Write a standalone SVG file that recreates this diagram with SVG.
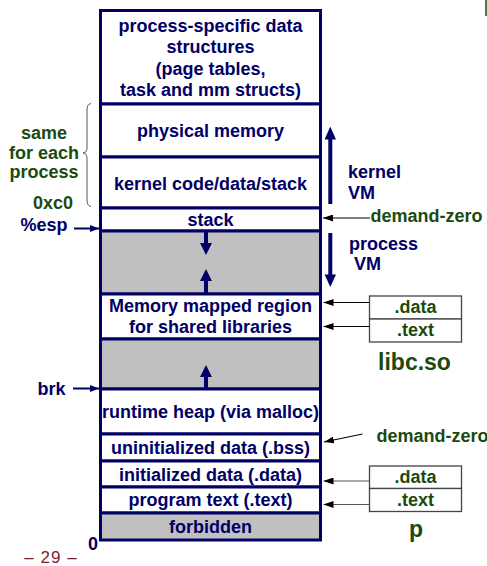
<svg xmlns="http://www.w3.org/2000/svg" width="487" height="566" viewBox="0 0 487 566">
<defs>
<style>
.box{fill:#ffffff;stroke:#000066;stroke-width:3}
.gray{fill:#c0c0c0;stroke:#000066;stroke-width:3}
.t{font-family:"Liberation Sans",Arial,sans-serif;font-weight:bold;font-size:18px;fill:#000066;text-anchor:middle}
.ts{font-family:"Liberation Sans",Arial,sans-serif;font-weight:bold;font-size:18px;fill:#000066}
.g{font-family:"Liberation Sans",Arial,sans-serif;font-weight:bold;font-size:18px;fill:#1a4a10;text-anchor:middle}
.gl{font-family:"Liberation Sans",Arial,sans-serif;font-weight:bold;font-size:18px;fill:#1a4a10}
.big{font-size:23px}
.sec{fill:#ffffff;stroke:#444444;stroke-width:1.3}
.thick{stroke:#000066;stroke-width:4;fill:none}
.head{fill:#000066}
.thin{stroke:#000000;stroke-width:1.2;fill:none;marker-end:url(#ahk)}
.thing{stroke:#555555;stroke-width:1.2;fill:none;marker-end:url(#ahg)}
.navy{stroke:#000066;stroke-width:2;fill:none;marker-end:url(#ahn)}
</style>
<marker id="ahk" viewBox="0 0 10 7" refX="10" refY="3.5" markerWidth="10" markerHeight="7" markerUnits="userSpaceOnUse" orient="auto"><path d="M0,0 L10,3.5 L0,7 z" fill="#000000"/></marker>
<marker id="ahg" viewBox="0 0 10 7" refX="10" refY="3.5" markerWidth="10" markerHeight="7" markerUnits="userSpaceOnUse" orient="auto"><path d="M0,0 L10,3.5 L0,7 z" fill="#000000"/></marker>
<marker id="ahn" viewBox="0 0 9 7" refX="9" refY="3.5" markerWidth="9" markerHeight="7" markerUnits="userSpaceOnUse" orient="auto"><path d="M0,0 L9,3.5 L0,7 z" fill="#000066"/></marker>
</defs>

<g id="proc-data">
<rect class="box" x="100.5" y="10.5" width="220" height="93.5"/>
<text class="t" x="210.5" y="31.5">process-specific data</text>
<text class="t" x="210.5" y="53">structures</text>
<text class="t" x="210.5" y="74.5">(page tables,</text>
<text class="t" x="210.5" y="96">task and mm structs)</text>
</g>
<g id="phys-mem">
<rect class="box" x="100.5" y="104" width="220" height="53"/>
<text class="t" x="210.5" y="137">physical memory</text>
</g>
<g id="kernel-code">
<rect class="box" x="100.5" y="157" width="220" height="51"/>
<text class="t" x="210.5" y="190">kernel code/data/stack</text>
</g>
<g id="stack">
<rect class="box" x="100.5" y="208" width="220" height="23"/>
<text class="t" x="210.5" y="226">stack</text>
</g>
<g id="gap1">
<rect class="gray" x="100.5" y="231" width="220" height="63"/>
</g>
<g id="mmap">
<rect class="box" x="100.5" y="294" width="220" height="45"/>
<text class="t" x="210.5" y="312">Memory mapped region</text>
<text class="t" x="210.5" y="333">for shared libraries</text>
</g>
<g id="gap2">
<rect class="gray" x="100.5" y="339" width="220" height="50"/>
</g>
<g id="heap">
<rect class="box" x="100.5" y="389" width="220" height="45"/>
<text class="t" x="210.5" y="418">runtime heap (via malloc)</text>
</g>
<g id="bss">
<rect class="box" x="100.5" y="434" width="220" height="27"/>
<text class="t" x="210.5" y="454">uninitialized data (.bss)</text>
</g>
<g id="data">
<rect class="box" x="100.5" y="461" width="220" height="26"/>
<text class="t" x="210.5" y="481">initialized data (.data)</text>
</g>
<g id="text">
<rect class="box" x="100.5" y="487" width="220" height="26"/>
<text class="t" x="210.5" y="506">program text (.text)</text>
</g>
<g id="forbidden">
<rect class="gray" x="100.5" y="513" width="220" height="27"/>
<text class="t" x="210.5" y="533">forbidden</text>
</g>

<g id="libc">
<rect class="sec" x="369.5" y="296" width="92" height="23"/>
<rect class="sec" x="369.5" y="319" width="92" height="23"/>
<text class="g" x="415.5" y="313">.data</text>
<text class="g" x="415.5" y="336">.text</text>
<text class="g big" x="414.5" y="369.5">libc.so</text>
</g>
<g id="p">
<rect class="sec" x="369.5" y="466" width="92" height="22.5"/>
<rect class="sec" x="369.5" y="488.5" width="92" height="23"/>
<text class="g" x="415.5" y="482.5">.data</text>
<text class="g" x="415.5" y="506">.text</text>
<text class="g big" x="416" y="536.5">p</text>
</g>

<g id="labels">
<text class="g" x="44" y="139">same</text>
<text class="g" x="44" y="159">for each</text>
<text class="g" x="44" y="177.5">process</text>
<text class="g" x="53" y="209">0xc0</text>
<text class="t" x="44" y="231">%esp</text>
<text class="t" x="51.5" y="395">brk</text>
<text class="t" x="93" y="550">0</text>
<text class="ts" x="348" y="178">kernel</text>
<text class="ts" x="348" y="199">VM</text>
<text class="ts" x="349" y="249.5">process</text>
<text class="ts" x="354" y="270">VM</text>
<text class="gl" x="370.5" y="221.5">demand-zero</text>
<text class="gl" x="376.5" y="441.5">demand-zero</text>
<text x="51" y="562.5" style="font-family:'Liberation Sans',Arial,sans-serif;font-size:17px;fill:#7f1f2f;text-anchor:middle;letter-spacing:1px">– 29 –</text>
</g>

<g id="connectors">
<path d="M91,103.5 Q87,104 87,110 L87,147 Q87,153 83,153 Q87,153 87,159 L87,200 Q87,206 91,206.5" fill="none" stroke="#555555" stroke-width="1"/>
<line class="thick" x1="330.3" y1="204" x2="330.3" y2="137"/>
<polygon class="head" points="330.3,126.5 336,139.5 324.6,139.5"/>
<line class="thick" x1="330.3" y1="233" x2="330.3" y2="277"/>
<polygon class="head" points="330.3,287 336,274.5 324.6,274.5"/>
<line class="thick" x1="206" y1="231" x2="206" y2="245"/>
<polygon class="head" points="206,255 212,243 200,243"/>
<line class="thick" x1="206" y1="294" x2="206" y2="279"/>
<polygon class="head" points="206,269 212,281 200,281"/>
<line class="thick" x1="206" y1="389" x2="206" y2="374"/>
<polygon class="head" points="206,365 212,377 200,377"/>
<line class="navy" x1="74" y1="228.5" x2="99" y2="228.5"/>
<line class="navy" x1="73" y1="388.5" x2="99" y2="388.5"/>
<line class="thin" x1="370" y1="218" x2="323" y2="218"/>
<line class="thin" x1="369" y1="302.5" x2="323.5" y2="302.5"/>
<line class="thin" x1="369" y1="326.5" x2="323.5" y2="326.5"/>
<line class="thin" x1="362.5" y1="434" x2="324" y2="442"/>
<line class="thing" x1="369" y1="481" x2="323.5" y2="481"/>
<line class="thing" x1="369" y1="504.5" x2="323.5" y2="504.5"/>
<line x1="486" y1="0" x2="486" y2="16" stroke="#1a4a10" stroke-width="1.5"/>
</g>
</svg>
